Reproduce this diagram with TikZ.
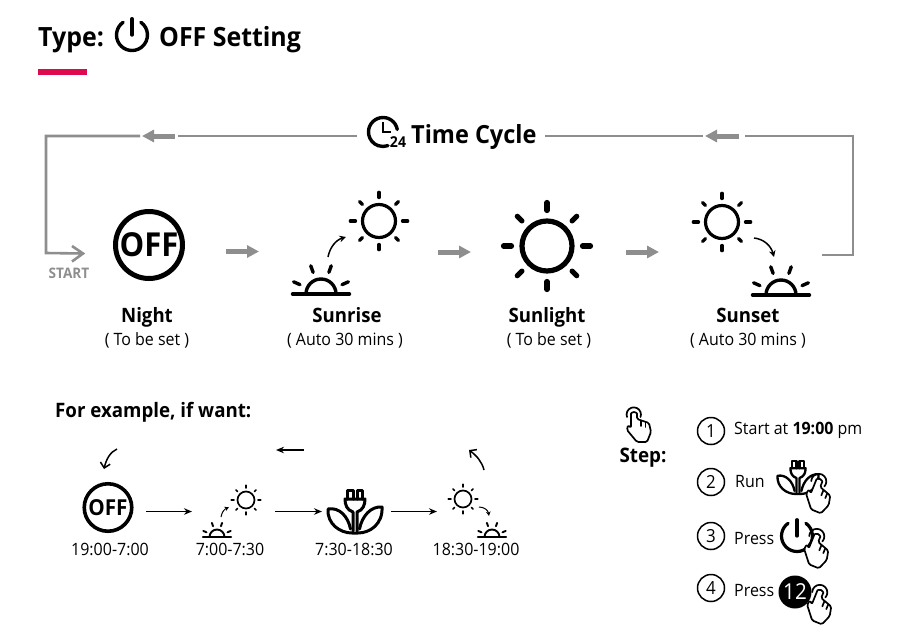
\documentclass[tikz,border=0pt]{standalone}
\usepackage{fontspec}
\setmainfont{Open Sans}[FakeStretch=0.94]
\usetikzlibrary{arrows.meta}
\definecolor{loopgray}{HTML}{8E8E8E}
\definecolor{accent}{HTML}{DE0A50}
\tikzset{
  x=1pt,y=-1pt,
  loopline/.style={draw=loopgray,line width=2.6pt},
  blockarrow/.style={draw=loopgray,line width=5pt,-{Triangle[length=12pt,width=12pt,fill=loopgray]}},
  thinarrow/.style={draw=black,line width=1.6pt,-{Stealth[length=8pt,width=6.5pt]}},
  curvearrow/.style={draw=black,line width=1.5pt,-{Stealth[length=6.5pt,width=6.5pt]}},
  head/.style={font=\fontsize{26.5}{30}\selectfont\bfseries,inner sep=0pt},
  name label/.style={font=\fontsize{19.8}{22}\selectfont\bfseries,inner sep=0pt,anchor=base},
  sub label/.style={font=\fontsize{17}{20}\selectfont,inner sep=0pt,anchor=base},
  step ring/.style={draw=black,line width=1.5pt,circle,minimum size=27pt,inner sep=0pt,font=\fontsize{18}{20}\selectfont},
}
% sun: x,y,ring radius,line width
\newcommand\sunicon[4]{%
  \begin{scope}[shift={(#1,#2)},line cap=round]
    \draw[line width=#4pt] (0,0) circle[radius=#3];
    \foreach \a in {0,90,180,270}
      \draw[line width=#4pt] (\a:#3*1.42) -- (\a:#3*1.74);
    \foreach \a in {45,135,225,315}
      \draw[line width=#4pt] (\a:#3*1.42) -- (\a:#3*1.68);
  \end{scope}}
% half sun: x,y of base centre,scale,line width
\newcommand\dawnicon[4]{%
  \begin{scope}[shift={(#1,#2)},line cap=round]
    \draw[line width=#4pt] (-28.5*#3,0) -- (28.5*#3,0);
    \draw[line width=#4pt,line cap=butt] (-15*#3,0) arc[start angle=180,end angle=360,radius=15*#3];
    \foreach \a in {-24,-70,-110,-156}
      \draw[line width=#4pt] (\a:23*#3) -- (\a:30*#3);
  \end{scope}}
% hand: x,y of fingertip,rotation,scale
\newcommand\handicon[4]{%
  \begin{scope}[shift={(#1,#2)},rotate=#3,scale=#4,line width=1.7pt,line join=round,line cap=round]
    \draw[fill=white,rounded corners=1.5pt]
      (-3,3) arc[start angle=180,end angle=360,radius=3]
      -- (3,7) -- (15,11) -- (17,20) -- (13,30) -- (3,30) -- (-7,18) -- (-6,13) -- (-3,16) -- cycle;
    \draw (7,8.5) -- (7,14) (11.5,10) -- (11.5,15);
    \draw (-7,5) arc[start angle=-200,end angle=20,radius=7.2];
  \end{scope}}
% power: x,y,radius,line width
\newcommand\powericon[4]{%
  \begin{scope}[shift={(#1,#2)},line cap=round]
    \draw[line width=#4pt] (-125:#3) arc[start angle=-125,end angle=-415,radius=#3];
    \draw[line width=#4pt] (0,-#3*1.05) -- (0,0);
  \end{scope}}
% plant: x,y bottom centre,scale,line width
\newcommand\planticon[4]{%
  \begin{scope}[shift={(#1,#2)},scale=#3,line width=#4pt,line join=round,line cap=round]
    \draw (-4.5,-4) .. controls (-7,-17) and (-16,-26) .. (-27,-24)
       .. controls (-28,-9) and (-15,0) .. (-3,0) -- (3,0)
       .. controls (15,0) and (28,-9) .. (27,-26)
       .. controls (16,-27) and (7,-17) .. (4.5,-4);
    \draw (-2,-2) -- (-2,-21) .. controls (-8,-23) and (-10,-28) .. (-10,-34) -- (10,-34)
      .. controls (10,-28) and (8,-23) .. (2,-21) -- (2,-2);
    \draw (-7.5,-34) -- (-7.5,-43) -- (-2,-43) -- (-2,-34) (2,-34) -- (2,-43) -- (7.5,-43) -- (7.5,-34);
  \end{scope}}
\begin{document}
\begin{tikzpicture}
\useasboundingbox (0,0) rectangle (900,633);
% title
\node[head,anchor=base west] (ttype) at (38,46) {Type:};
\powericon{132}{35}{15.5}{3.4}
\node[head,anchor=base west] (toff) at (159,46) {OFF Setting};
\fill[accent] (38,68.5) rectangle (87,75);

% time cycle header
\begin{scope}[shift={(383,132)},line width=3.4pt,line cap=round]
  \draw (-10:14.5) arc[start angle=-10,end angle=-290,radius=14.5];
  \draw[line width=2.8pt,line cap=butt,line join=miter] (0,-10) -- (0,0) -- (8,0);
\end{scope}
\node[inner sep=0pt,font=\fontsize{15}{16}\selectfont\bfseries] (t24) at (398,142) {24};
\node[inner sep=0pt,anchor=base west,font=\fontsize{25}{28}\selectfont\bfseries] (tcycle) at (411,143) {Time Cycle};

% loop line
\coordinate (la) at (357,136);
\coordinate (lb) at (178,136);
\coordinate (lc) at (175,136);
\coordinate (ld) at (142,136);
\coordinate (le) at (140,136);
\coordinate (lf) at (46,136);
\coordinate (lg) at (46,253);
\coordinate (lh) at (83,253.5);
\coordinate (ra) at (545,136);
\coordinate (rb) at (703,136);
\coordinate (rc) at (739,136);
\coordinate (rd) at (705,136);
\coordinate (re) at (745,136);
\coordinate (rf) at (853,136);
\coordinate (rg) at (853,255);
\coordinate (rh) at (822,255);
\draw[loopline] (la) -- (lb);
\draw[blockarrow] (lc) -- (ld);
\draw[loopline] (le) -- (lf) -- (lg) -- (lh);
\draw[draw=loopgray,line width=2.6pt] (72,246) -- (83,253.5) -- (72,261.5);
\draw[loopline] (ra) -- (rb);
\draw[blockarrow] (rc) -- (rd);
\draw[loopline] (re) -- (rf) -- (rg) -- (rh);
\node[inner sep=0pt,text=loopgray,font=\fontsize{14.5}{15}\selectfont\bfseries] (start) at (69,273) {START};

% top row icons
\node[circle,draw=black,line width=5pt,minimum size=67pt,inner sep=0pt] (off) at (149,245) {};
\node[inner sep=0pt,font=\fontsize{33}{36}\selectfont\bfseries] (offt) at (off) {OFF};
\sunicon{379}{221}{16.5}{3.2}
\dawnicon{321}{294}{1}{3.4}
\sunicon{547}{246}{25}{5.2}
\sunicon{722}{222}{16.5}{3.2}
\dawnicon{781}{295}{1}{3.4}
\coordinate (a1) at (226,251.5);
\coordinate (a2) at (259,251.5);
\coordinate (a3) at (438,252);
\coordinate (a4) at (471,252);
\coordinate (a5) at (626,252);
\coordinate (a6) at (659,252);
\draw[blockarrow] (a1) -- (a2);
\draw[blockarrow] (a3) -- (a4);
\draw[blockarrow] (a5) -- (a6);
\coordinate (c1) at (328,257);
\coordinate (c2) at (346,237);
\coordinate (c3) at (754,238);
\coordinate (c4) at (774,257);
\draw[curvearrow] (c1) .. controls (330,247) and (336,240) .. (c2);
\draw[curvearrow] (c3) .. controls (764,239) and (771,246) .. (c4);

% top row labels
\node[name label] (n1) at (147,322.5) {Night};
\node[sub label] (s1) at (147,345) {( To be set )};
\node[name label] (n2) at (347,322.5) {Sunrise};
\node[sub label] (s2) at (345,345.5) {( Auto 30 mins )};
\node[name label] (n3) at (547,322.5) {Sunlight};
\node[sub label] (s3) at (549,345) {( To be set )};
\node[name label] (n4) at (748,322.5) {Sunset};
\node[sub label] (s4) at (748,345.5) {( Auto 30 mins )};

% example
\node[inner sep=0pt,anchor=base west,font=\fontsize{19.9}{22}\selectfont\bfseries] (ex) at (55,417) {For example, if want:};
\node[circle,draw=black,line width=3.6pt,minimum size=47.5pt,inner sep=0pt] (off2) at (108,507.5) {};
\node[inner sep=0pt,font=\fontsize{22}{24}\selectfont\bfseries] (off2t) at (off2) {OFF};
\sunicon{246}{500}{8.5}{1.7}
\dawnicon{217}{537}{0.5}{1.9}
\planticon{355}{533}{1}{3}
\sunicon{463}{499}{8.5}{1.7}
\dawnicon{492}{537}{0.5}{1.9}
\node[sub label] (e1) at (110,555) {19:00-7:00};
\node[sub label] (e2) at (230,555) {7:00-7:30};
\node[sub label] (e3) at (354,555) {7:30-18:30};
\node[sub label] (e4) at (476,555) {18:30-19:00};
\coordinate (b1) at (146,511.5);
\coordinate (b2) at (192,511.5);
\coordinate (b3) at (275,511.5);
\coordinate (b4) at (322,511.5);
\coordinate (b5) at (391,511.5);
\coordinate (b6) at (437,511.5);
\coordinate (b7) at (304,450);
\coordinate (b8) at (276,450);
\draw[thinarrow] (b1) -- (b2);
\draw[thinarrow] (b3) -- (b4);
\draw[thinarrow] (b5) -- (b6);
\draw[thinarrow] (b7) -- (b8);
\coordinate (d1) at (117,449);
\coordinate (d2) at (104,469);
\coordinate (d3) at (484,470);
\coordinate (d4) at (469,450);
\draw[curvearrow,-{Straight Barb[length=5pt,width=10pt]}] (d1) .. controls (110,452) and (106,460) .. (d2);
\draw[curvearrow,-{Straight Barb[length=5pt,width=10pt]}] (d3) .. controls (482,462) and (477,456) .. (d4);
\coordinate (d5) at (221,517);
\coordinate (d6) at (229,507);
\coordinate (d7) at (479,507);
\coordinate (d8) at (489,516);
\draw[curvearrow,line width=1pt,-{Stealth[length=4.5pt,width=4.5pt]}] (d5) .. controls (222,511) and (225,509) .. (d6);
\draw[curvearrow,line width=1pt,-{Stealth[length=4.5pt,width=4.5pt]}] (d7) .. controls (484,507) and (488,510) .. (d8);

% steps
\handicon{634}{412}{0}{1}
\node[inner sep=0pt,anchor=base,font=\fontsize{20}{22}\selectfont\bfseries] (st) at (643,462.5) {Step:};
\node[step ring] (r1) at (711,431) {1};
\node[step ring] (r2) at (711,482) {2};
\node[step ring] (r3) at (711,536) {3};
\node[step ring] (r4) at (711,588) {4};
\node[sub label,anchor=base west] (t1) at (734,434.5) {Start at \textbf{19:00} pm};
\node[sub label,anchor=base west] (t2) at (735,487.5) {Run};
\node[sub label,anchor=base west] (t3) at (734,544.5) {Press};
\node[sub label,anchor=base west] (t4) at (734,596.5) {Press};
\planticon{798}{494}{0.76}{2.3}
\handicon{820}{479}{-22}{1.05}
\powericon{797}{536}{15.5}{3.2}
\handicon{818}{534}{-22}{1.05}
\node[circle,fill=black,text=white,minimum size=33pt,inner sep=0pt,font=\fontsize{22}{24}\selectfont] (twelve) at (795,592) {12};
\handicon{821}{590}{-22}{1.05}
\end{tikzpicture}
\end{document}
